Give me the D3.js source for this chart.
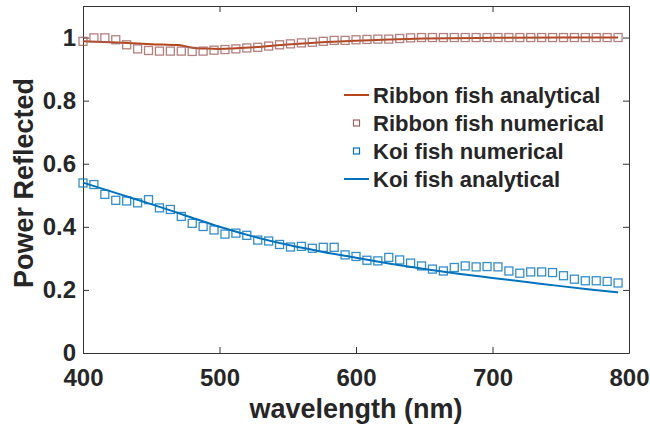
<!DOCTYPE html>
<html>
<head>
<meta charset="utf-8">
<script src="https://cdn.jsdelivr.net/npm/d3@7"></script>
<style>
  body { margin: 0; background: #fff; }
  svg text { font-family: "Liberation Sans", Arial, sans-serif; font-weight: bold; fill: #262626; }
</style>
</head>
<body>
<div id="chart"></div>
<script>
// numerical samples every 8 nm
var wl_num = d3.range(400, 793, 8);
var ribbon_num = [0.988, 0.999, 0.999, 0.993, 0.977, 0.964, 0.959, 0.957, 0.957, 0.957, 0.956, 0.957, 0.960,
                  0.962, 0.964, 0.967, 0.969, 0.973, 0.977, 0.980, 0.983, 0.985, 0.988, 0.991, 0.991, 0.993,
                  0.994, 0.995, 0.995, 0.997, 0.999, 1.0, 1.0, 1.0, 1.0, 1.0, 1.0, 1.0, 1.0, 1.0,
                  1.0, 1.0, 1.0, 1.0, 1.0, 1.0, 1.0, 1.0, 1.0, 1.0];
var koi_num = [0.539, 0.534, 0.503, 0.484, 0.482, 0.476, 0.486, 0.460, 0.455, 0.433, 0.411, 0.401, 0.390,
               0.377, 0.380, 0.373, 0.358, 0.355, 0.344, 0.336, 0.338, 0.332, 0.335, 0.335, 0.311, 0.306,
               0.294, 0.292, 0.303, 0.295, 0.285, 0.276, 0.266, 0.260, 0.271, 0.276, 0.273, 0.274,
               0.273, 0.260, 0.253, 0.257, 0.257, 0.255, 0.245, 0.234, 0.229, 0.229, 0.227, 0.222];
// analytical curves
var wl_ana = [400, 425, 450, 470, 480, 490, 500, 525, 550, 575, 600, 625, 650, 700, 750, 792];
var ribbon_ana = [0.988, 0.984, 0.979, 0.976, 0.968, 0.965, 0.964, 0.969, 0.978, 0.985, 0.990, 0.994, 0.997, 0.999, 1.0, 1.0];
var wl_koi = [400, 425, 450, 475, 500, 525, 550, 575, 600, 625, 650, 675, 700, 725, 750, 775, 792];
var koi_ana = [0.540, 0.506, 0.472, 0.436, 0.400, 0.369, 0.343, 0.321, 0.302, 0.283, 0.266, 0.251, 0.238, 0.225, 0.212, 0.200, 0.192];
var x_ticks = [400, 500, 600, 700, 800];
var y_ticks = [0, 0.2, 0.4, 0.6, 0.8, 1];
var legend_names = ['Ribbon fish analytical', 'Ribbon fish numerical', 'Koi fish numerical', 'Koi fish analytical'];

var ribbon_line_color = '#b5461b';
var ribbon_mark_color = '#a0605e';
var koi_color = '#0072bd';

var svg = d3.select('#chart').append('svg').attr('width', 650).attr('height', 429);
var plot_left = 83, plot_right = 629, plot_top = 6, plot_bottom = 353;

var x = d3.scaleLinear().domain([400, 800]).range([plot_left, plot_right]);
var y = d3.scaleLinear().domain([0, 1.1]).range([plot_bottom, plot_top]);

// box + inward ticks
svg.append('g').attr('transform', 'translate(0,' + plot_bottom + ')')
    .call(d3.axisBottom(x).tickValues(x_ticks).tickSize(-6).tickSizeOuter(0).tickPadding(16))
    .attr('class', 'ax');
svg.append('g').attr('transform', 'translate(' + plot_left + ',0)')
    .call(d3.axisLeft(y).tickValues(y_ticks).tickFormat(d => d).tickSize(-6).tickSizeOuter(0).tickPadding(7))
    .attr('class', 'ax');
svg.append('g').attr('transform', 'translate(0,' + plot_top + ')')
    .call(d3.axisTop(x).tickValues(x_ticks).tickSize(-6).tickSizeOuter(0).tickFormat(''))
    .attr('class', 'ax');
svg.append('g').attr('transform', 'translate(' + plot_right + ',0)')
    .call(d3.axisRight(y).tickValues(y_ticks).tickSize(-6).tickSizeOuter(0).tickFormat(''))
    .attr('class', 'ax');
svg.selectAll('.ax path, .ax line').attr('stroke', '#333').attr('stroke-width', 1);
svg.selectAll('.ax text').attr('font-size', 24).attr('fill', '#262626')
    .attr('font-family', '"Liberation Sans", Arial, sans-serif').attr('font-weight', 'bold');

var line = d3.line().x(d => x(d[0])).y(d => y(d[1])).curve(d3.curveMonotoneX);

// ribbon
svg.append('path').datum(wl_ana.map((w, i) => [w, ribbon_ana[i]]))
    .attr('d', line).attr('fill', 'none').attr('stroke', ribbon_line_color).attr('stroke-width', 2);
svg.append('g').selectAll('rect').data(wl_num.map((w, i) => [w, ribbon_num[i]])).join('rect')
    .attr('x', d => x(d[0]) - 4).attr('y', d => y(d[1]) - 4).attr('width', 8).attr('height', 8)
    .attr('fill', 'none').attr('stroke', ribbon_mark_color).attr('stroke-width', 1.3).attr('opacity', 0.8);

// koi
svg.append('g').selectAll('rect').data(wl_num.map((w, i) => [w, koi_num[i]])).join('rect')
    .attr('x', d => x(d[0]) - 4).attr('y', d => y(d[1]) - 4).attr('width', 8).attr('height', 8)
    .attr('fill', 'none').attr('stroke', koi_color).attr('stroke-width', 1.3).attr('opacity', 0.8);
svg.append('path').datum(wl_koi.map((w, i) => [w, koi_ana[i]]))
    .attr('d', line).attr('fill', 'none').attr('stroke', koi_color).attr('stroke-width', 2);

// axis labels
svg.append('text').text('wavelength (nm)').attr('x', (plot_left + plot_right) / 2).attr('y', 418)
    .attr('text-anchor', 'middle').attr('font-size', 27);
svg.append('text').text('Power Reflected').attr('text-anchor', 'middle').attr('font-size', 27)
    .attr('transform', 'translate(33,183) rotate(-90)');

// legend
var leg = svg.append('g').attr('transform', 'translate(344,95)');
legend_names.forEach((name, i) => {
    var g = leg.append('g').attr('transform', 'translate(0,' + (i * 28) + ')');
    if (i == 0 || i == 3) {
        g.append('line').attr('x1', 0).attr('x2', 25).attr('y1', 0).attr('y2', 0)
            .attr('stroke', i == 0 ? ribbon_line_color : koi_color).attr('stroke-width', 2);
    } else {
        g.append('rect').attr('x', 9.5).attr('y', -3).attr('width', 6).attr('height', 6).attr('fill', 'none')
            .attr('stroke', i == 1 ? ribbon_mark_color : koi_color).attr('stroke-width', 1.2);
    }
    g.append('text').text(name).attr('x', 29).attr('y', 0).attr('dy', '0.36em').attr('font-size', 22).attr('fill', '#000');
});
</script>
</body>
</html>
